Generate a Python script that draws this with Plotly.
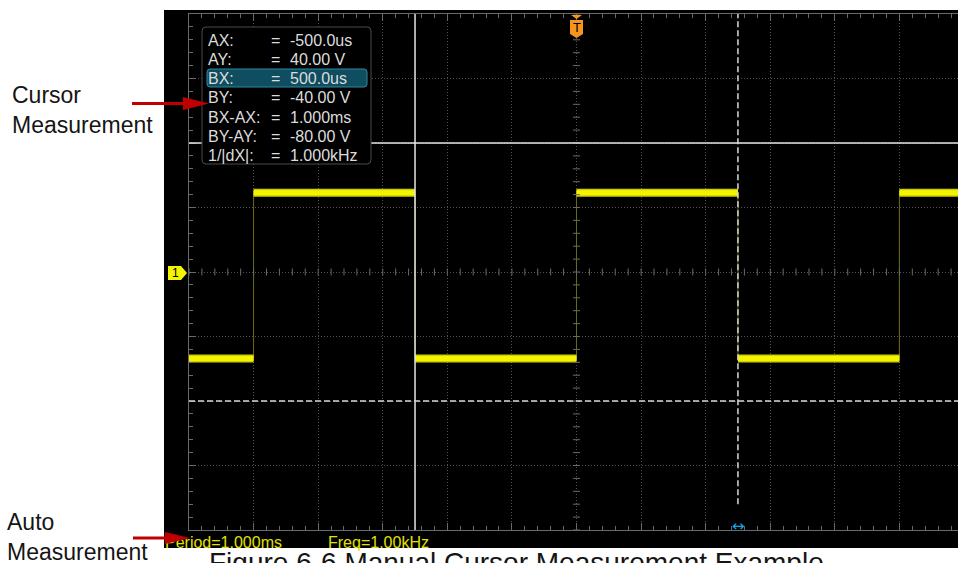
import numpy as np
import plotly.graph_objects as go

W, H = 958, 563

# ---------------- data ----------------
seg_start_ms = [-1.2, -1.0, -0.5, 0.0, 0.5, 1.0]
seg_end_ms = [-1.0, -0.5, 0.0, 0.5, 1.0, 1.1815]
seg_level_v = [-26.8, 24.6, -26.8, 24.6, -26.8, 24.6]

cursor_ax_ms = -0.5
cursor_bx_ms = 0.5
cursor_ay_v = 40.0
cursor_by_v = -40.0

meas_labels = ["AX:", "AY:", "BX:", "BY:", "BX-AX:", "BY-AY:", "1/|dX|:"]
meas_values = ["-500.0us", "40.00 V", "500.0us", "-40.00 V", "1.000ms", "-80.00 V", "1.000kHz"]
auto_meas = ["Period=1.000ms", "Freq=1.00kHz"]

time_div_ms = 0.2
volt_div = 20
x_range = [-1.2, 1.1815]
y_range = [-80, 80]

caption = "Figure 6-6 Manual Cursor Measurement Example"

# --------------- helpers ---------------
def px(x):
    return x / W


def py(y):
    return 1 - y / H


FONT = "Liberation Sans, Arial, sans-serif"


def rrect(x0, y0, x1, y1, r):
    return (f"M {px(x0+r)},{py(y0)} L {px(x1-r)},{py(y0)} Q {px(x1)},{py(y0)} {px(x1)},{py(y0+r)} "
            f"L {px(x1)},{py(y1-r)} Q {px(x1)},{py(y1)} {px(x1-r)},{py(y1)} "
            f"L {px(x0+r)},{py(y1)} Q {px(x0)},{py(y1)} {px(x0)},{py(y1-r)} "
            f"L {px(x0)},{py(y0+r)} Q {px(x0)},{py(y0)} {px(x0+r)},{py(y0)} Z")


def poly(pts):
    s = "M " + " L ".join(f"{px(a)},{py(b)}" for a, b in pts) + " Z"
    return s


annotations = []


def ann(text, x, y, size, color, xanchor="left", yanchor="middle", family=FONT):
    annotations.append(dict(text=text, x=px(x), y=py(y), xref="paper", yref="paper",
                            xanchor=xanchor, yanchor=yanchor, showarrow=False,
                            font=dict(size=size, color=color, family=family)))


# --------------- traces ---------------
fig = go.Figure()

# waveform edges (thin olive)
ex, ey = [], []
for i in range(len(seg_end_ms) - 1):
    ex += [seg_end_ms[i], seg_end_ms[i], None]
    ey += [seg_level_v[i], seg_level_v[i + 1], None]
fig.add_trace(go.Scatter(x=ex, y=ey, mode="lines", line=dict(color="#6b6b12", width=1),
                         hoverinfo="skip", showlegend=False))

# waveform levels (thick yellow)
sx, sy = [], []
for a, b, v in zip(seg_start_ms, seg_end_ms, seg_level_v):
    sx += [a, b, None]
    sy += [v, v, None]
fig.add_trace(go.Scatter(x=sx, y=sy, mode="lines", line=dict(color="#cfcf00", width=8),
                         hoverinfo="skip", showlegend=False))
fig.add_trace(go.Scatter(x=sx, y=sy, mode="lines", line=dict(color="#f4f400", width=5),
                         hoverinfo="skip", showlegend=False))

# centre-line minor ticks
minor_x = np.arange(x_range[0], x_range[1], time_div_ms / 5)
minor_y = np.arange(y_range[0], y_range[1] + 0.01, volt_div / 5)
fig.add_trace(go.Scatter(x=minor_x, y=np.zeros_like(minor_x), mode="markers",
                         marker=dict(symbol="line-ns", size=5, line=dict(color="#6a6a6a", width=1)),
                         hoverinfo="skip", showlegend=False))
fig.add_trace(go.Scatter(x=np.zeros_like(minor_y), y=minor_y, mode="markers",
                         marker=dict(symbol="line-ew", size=5, line=dict(color="#6a6a6a", width=1)),
                         hoverinfo="skip", showlegend=False))

# --------------- shapes ---------------
shapes = []
# black screen background
shapes.append(dict(type="rect", xref="paper", yref="paper", x0=px(164), x1=px(958), y0=py(548), y1=py(10),
                   fillcolor="black", line=dict(width=0), layer="below"))

# cursors
shapes.append(dict(type="line", xref="x", yref="y", x0=cursor_ax_ms, x1=cursor_ax_ms, y0=y_range[0], y1=y_range[1],
                   line=dict(color="#e6e6e6", width=1.5), layer="above"))
shapes.append(dict(type="line", xref="x", yref="y", x0=x_range[0], x1=x_range[1], y0=cursor_ay_v, y1=cursor_ay_v,
                   line=dict(color="#e6e6e6", width=1.5), layer="above"))
shapes.append(dict(type="line", xref="x", yref="y", x0=cursor_bx_ms, x1=cursor_bx_ms, y0=y_range[0] + 8, y1=y_range[1],
                   line=dict(color="#d8d8d8", width=1.5, dash="6px,3px"), layer="above"))
shapes.append(dict(type="line", xref="x", yref="y", x0=x_range[0], x1=x_range[1], y0=cursor_by_v, y1=cursor_by_v,
                   line=dict(color="#d8d8d8", width=1.5, dash="6px,3px"), layer="above"))

# measurement box
shapes.append(dict(type="path", xref="paper", yref="paper", path=rrect(202, 27, 371, 164, 4),
                   fillcolor="black", line=dict(color="#4a4a4a", width=1), layer="above"))
shapes.append(dict(type="path", xref="paper", yref="paper", path=rrect(207, 69, 367, 87, 3),
                   fillcolor="#0f4d60", line=dict(color="#2e8aa2", width=1), layer="above"))

# trigger marker
shapes.append(dict(type="path", xref="paper", yref="paper",
                   path=poly([(571, 15), (582, 15), (576.5, 19)]),
                   fillcolor="#f7941d", line=dict(width=0), layer="above"))
shapes.append(dict(type="path", xref="paper", yref="paper",
                   path=poly([(570, 20), (583, 20), (583, 34), (576.5, 38), (570, 34)]),
                   fillcolor="#f7941d", line=dict(width=0), layer="above"))

# channel 1 marker
shapes.append(dict(type="path", xref="paper", yref="paper",
                   path=poly([(168, 266), (181, 266), (187, 273), (181, 280), (168, 280)]),
                   fillcolor="#f4f400", line=dict(width=0), layer="above"))

# auto measurement texts as shape labels (so the arrow can sit on top)
shapes.append(dict(type="rect", xref="paper", yref="paper", x0=px(162), x1=px(300), y0=py(548), y1=py(532),
                   line=dict(width=0), fillcolor="rgba(0,0,0,0)", layer="above",
                   label=dict(text=auto_meas[0], textposition="middle left", padding=0,
                              font=dict(size=16, color="#e2e200", family=FONT))))
shapes.append(dict(type="rect", xref="paper", yref="paper", x0=px(325), x1=px(460), y0=py(548), y1=py(532),
                   line=dict(width=0), fillcolor="rgba(0,0,0,0)", layer="above",
                   label=dict(text=auto_meas[1], textposition="middle left", padding=0,
                              font=dict(size=16, color="#e2e200", family=FONT))))

# red arrows
RED = "#c00000"
shapes.append(dict(type="line", xref="paper", yref="paper", x0=px(132), x1=px(186), y0=py(103.5), y1=py(103.5),
                   line=dict(color=RED, width=3), layer="above"))
shapes.append(dict(type="path", xref="paper", yref="paper",
                   path=poly([(183, 97), (209, 103.5), (183, 110)]),
                   fillcolor=RED, line=dict(width=0), layer="above"))
shapes.append(dict(type="line", xref="paper", yref="paper", x0=px(133), x1=px(168), y0=py(538), y1=py(538),
                   line=dict(color=RED, width=3), layer="above"))
shapes.append(dict(type="path", xref="paper", yref="paper",
                   path=poly([(165, 532), (190, 538), (165, 544)]),
                   fillcolor=RED, line=dict(width=0), layer="above"))

# --------------- texts ---------------
row0, row_gap = 40, 19.3
for i, (lab, val) in enumerate(zip(meas_labels, meas_values)):
    yy = row0 + i * row_gap
    ann(lab, 206, yy, 16, "#dcdcdc")
    ann("=", 275, yy, 16, "#dcdcdc", xanchor="center")
    ann(val, 288, yy, 16, "#dcdcdc")

ann("T", 576.5, 27, 13, "black", xanchor="center")
ann("1", 175, 273, 12, "black", xanchor="center")
ann("\u2194", 738.5, 526, 15, "#1aa6e6", xanchor="center", family="DejaVu Sans")

ann("Cursor", 10, 95, 23, "#151515")
ann("Measurement", 10, 125, 23, "#151515")
ann("Auto", 5, 522, 23, "#151515")
ann("Measurement", 5, 552, 23, "#151515")
ann(caption, 207, 545, 28, "#151515", yanchor="top")

# --------------- layout ---------------
fig.update_layout(
    width=W, height=H,
    margin=dict(l=0, r=0, t=0, b=0, pad=0),
    paper_bgcolor="white", plot_bgcolor="black",
    hovermode=False, showlegend=False,
    shapes=shapes, annotations=annotations,
    xaxis=dict(domain=[px(189), 1], range=x_range, showticklabels=False, zeroline=False,
               showgrid=True, gridcolor="#505050", griddash="1px,2px", gridwidth=1,
               dtick=time_div_ms, tick0=0, ticks="inside", ticklen=7, tickcolor="#6a6a6a",
               showline=True, linecolor="#6a6a6a", linewidth=1, mirror="ticks",
               minor=dict(ticks="inside", ticklen=4, tickcolor="#6a6a6a", dtick=time_div_ms / 5,
                          tick0=0, showgrid=False),
               fixedrange=True),
    yaxis=dict(domain=[py(530), py(14)], range=y_range, showticklabels=False, zeroline=False,
               showgrid=True, gridcolor="#505050", griddash="1px,2px", gridwidth=1,
               dtick=volt_div, tick0=0, ticks="inside", ticklen=7, tickcolor="#6a6a6a",
               showline=True, linecolor="#6a6a6a", linewidth=1, mirror=False,
               minor=dict(ticks="inside", ticklen=4, tickcolor="#6a6a6a", dtick=volt_div / 5,
                          tick0=0, showgrid=False),
               fixedrange=True),
)

fig.write_html("out.html", config={"displayModeBar": False},
               post_script="document.body.style.margin='0';document.body.style.overflow='hidden';")
